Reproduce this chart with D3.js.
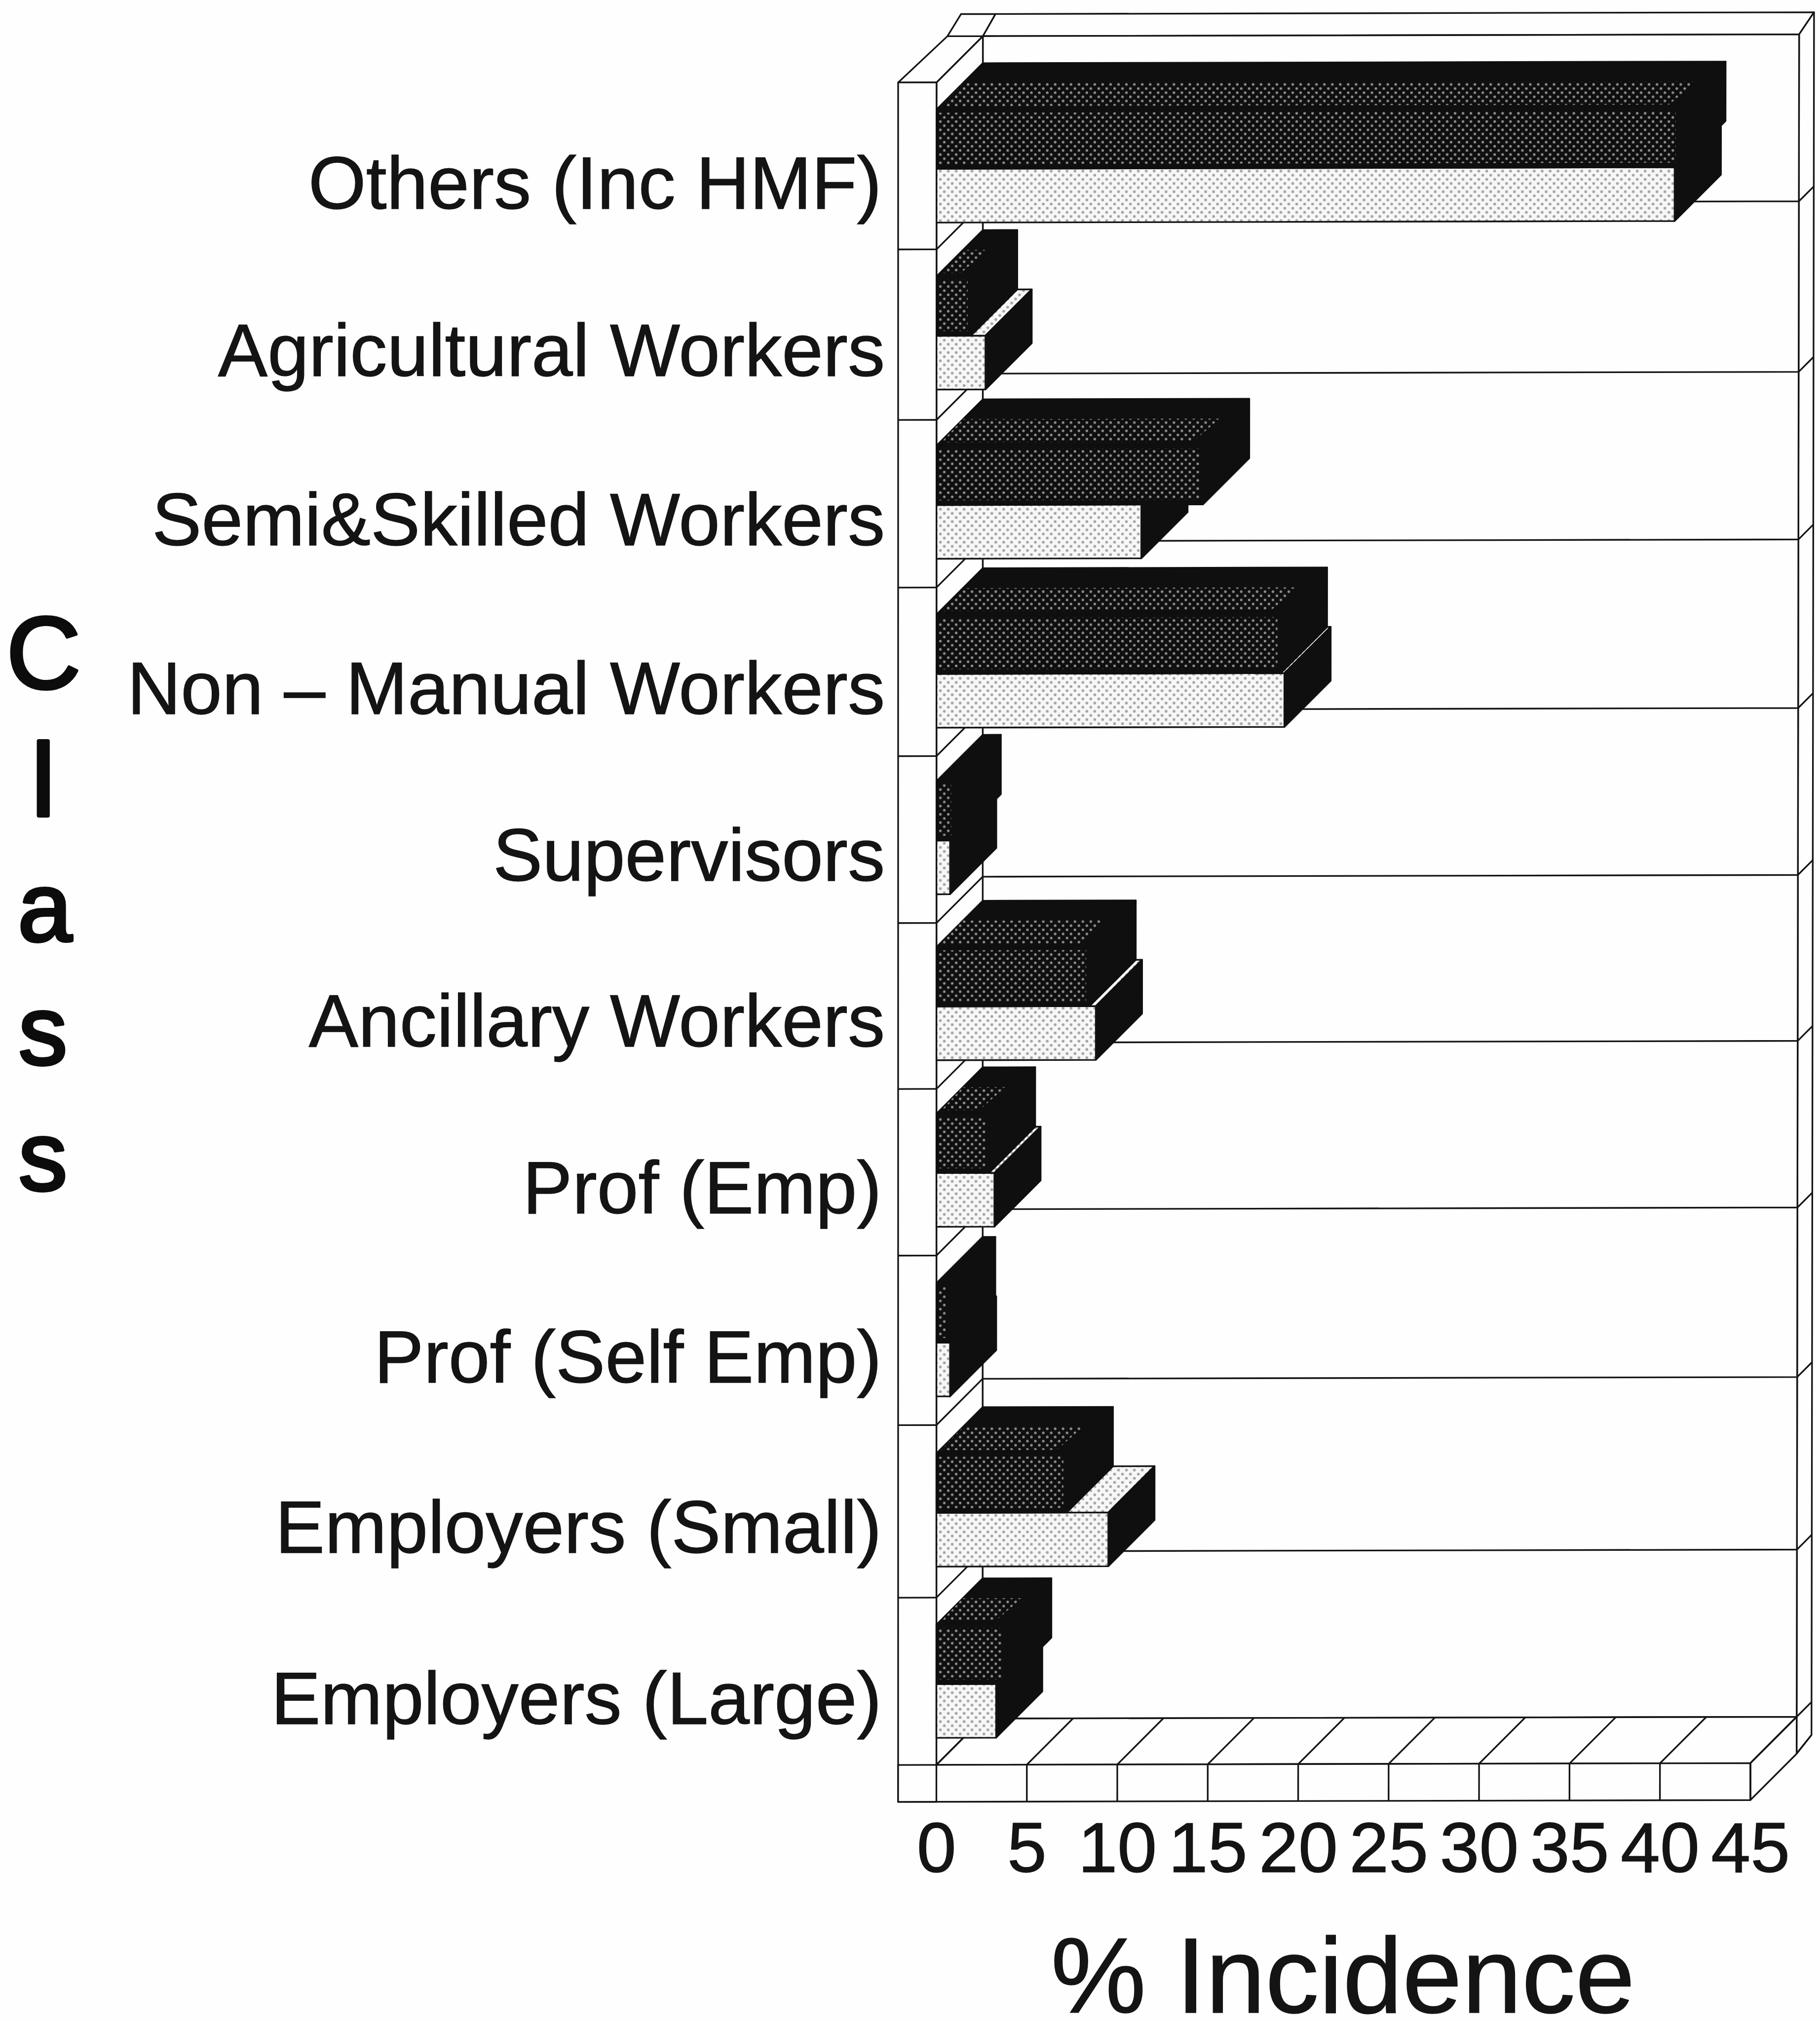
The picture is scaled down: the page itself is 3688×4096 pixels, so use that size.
<!DOCTYPE html>
<html><head><meta charset="utf-8">
<script src="https://cdn.jsdelivr.net/npm/d3@7/dist/d3.min.js"></script>
<style>html,body{margin:0;padding:0;background:#fefefe}svg{display:block}</style>
</head><body><div id="chart"></div>
<script>
const categories = ["Others (Inc HMF)","Agricultural Workers","Semi&Skilled Workers","Non \u2013 Manual Workers","Supervisors","Ancillary Workers","Prof (Emp)","Prof (Self Emp)","Employers (Small)","Employers (Large)"];
const lightValues = [40.7,2.7,11.3,19.2,0.75,8.8,3.2,0.75,9.5,3.3];
const darkValues  = [40.95,1.9,14.7,19.0,1.0,8.45,2.9,0.7,7.2,3.8];
const tickLabels  = [0,5,10,15,20,25,30,35,40,45];
const xTitle = "% Incidence";
const yTitle = ["C","l","a","s","s"];

const W=5516,H=6126;
const FONT='"Liberation Sans",Arial,sans-serif';
const svg=d3.select("#chart").append("svg").attr("width",3688).attr("height",4096).attr("viewBox",`0 0 ${W} ${H}`);
svg.append("rect").attr("width",W).attr("height",H).attr("fill","#fefefe");

const rowIdx=d3.range(categories.length+1);
const x=d3.scaleLinear().domain([0,45]).range([2838,5305]);
/* the scan is not quite even, so the row scales are piecewise */
const yRow=d3.scaleLinear().domain(rowIdx).range([246,756,1273,1781,2292,2798,3301,3806,4320,4843,5350]);
const yBar=d3.scaleLinear().domain(rowIdx.slice(0,-1)).range([512,1018,1531,2043,2548,3051,3556,4070,4586,5105]);
const D=140, x0=x(0), xM=x(45), yTop=yRow(0)+4, yFloor=yRow(10), yBase=5462, xPanel=2722;
const DARK_H=180, LIGHT_H=163;

const defs=svg.append("defs");
function dots(id,bg,dot,r){
  const p=defs.append("pattern").attr("id",id).attr("patternUnits","userSpaceOnUse").attr("width",24).attr("height",25);
  p.append("rect").attr("width",24).attr("height",25).attr("fill",bg);
  p.append("circle").attr("cx",6).attr("cy",6).attr("r",r).attr("fill",dot);
  p.append("circle").attr("cx",18).attr("cy",18.5).attr("r",r).attr("fill",dot);
}
dots("darkDots","#0f0f0f","#8c8c8c",4);
dots("lightDots","#f7f7f7","#a4a4a4",4.3);

const INK="#141414", PAPER="#fefefe", BLACK="#0f0f0f";
const warp=([a,b])=>{const t=(a-2700)/2800,s=b/5400;return [a+8*t*(1-s),b-6*t];};
const line=d3.line();
const g=svg.append("g");
function poly(pts,fill,sw=5,stroke=INK){
  g.append("path").attr("d",line(pts.map(warp))+"Z").attr("fill",fill).attr("stroke",stroke).attr("stroke-width",sw).attr("stroke-linejoin","round");
}
function path(pts,sw=5){
  g.append("path").attr("d",line(pts.map(warp))).attr("fill","none").attr("stroke",INK).attr("stroke-width",sw);
}

/* back wall with its rim */
const wallTop=43, E=45;
poly([[x0+D,yTop-D],[x0+D+38,wallTop],[xM+D+E,wallTop],[xM+D,yTop-D]],PAPER);
poly([[xM+D,yTop-D],[xM+D+E,wallTop],[xM+D+E,yFloor-D+55],[xM+D,yFloor-D+111]],PAPER);
poly([[x0+D,yTop-D],[xM+D,yTop-D],[xM+D,yFloor-D],[x0+D,yFloor-D]],PAPER);
/* inner left wall */
poly([[x0,yTop],[x0+D,yTop-D],[x0+D,yFloor-D],[x0,yFloor]],PAPER);
/* rim pieces at the top left */
poly([[xPanel,yTop],[x0,yTop],[x0+D,yTop-D],[xPanel+149,yTop-D]],PAPER);
poly([[xPanel+149,yTop-D],[xPanel+190,wallTop],[x0+D+38,wallTop],[x0+D,yTop-D]],PAPER);

/* row lines on the walls */
rowIdx.slice(1,-1).forEach(i=>{
  const b=yRow(i);
  path([[x0,b],[x0+D,b-D],[xM+D,b-D],[xM+D+E,b-D-E]]);
});
path([[xM+D,yFloor-D],[xM+D+E,yFloor-D-E]]);

/* floor */
poly([[x0,yFloor],[xM,yFloor],[xM+D,yFloor-D],[x0+D,yFloor-D]],PAPER);
poly([[xM,yFloor],[xM,yBase],[xM+D,yBase-D],[xM+D,yFloor-D]],PAPER);
path([[xM+D,yBase-D],[xM+D+E,yFloor-D+55]]);
tickLabels.forEach(v=>path([[x(v),yFloor],[x(v)+D,yFloor-D]]));

/* front edge */
poly([[xPanel,yTop],[x0,yTop],[x0,yBase],[xPanel,yBase]],PAPER);
rowIdx.slice(1,-1).forEach(i=>path([[xPanel,yRow(i)],[x0,yRow(i)]]));
poly([[xPanel,yFloor],[xM,yFloor],[xM,yBase],[xPanel,yBase]],PAPER);
tickLabels.forEach(v=>path([[x(v),yFloor],[x(v),yBase]]));

/* bars: the light one first, the dark one stands over its top */
function lightBar(v,t,b){
  const r=x(v);
  poly([[x0,t],[r,t],[r+D,t-D],[x0+D,t-D]],"url(#lightDots)");
  poly([[r,t],[r,b],[r+D,b-D],[r+D,t-D]],BLACK,5,BLACK);
  poly([[x0,t],[r,t],[r,b],[x0,b]],"url(#lightDots)");
}
function darkBar(v,t,b){
  const r=x(v);
  poly([[x0,t],[r,t],[r+D,t-D],[x0+D,t-D]],BLACK,5,BLACK);
  poly([[r,t],[r,b],[r+D,b-D],[r+D,t-D]],BLACK,5,BLACK);
  poly([[x0,t],[r,t],[r,b],[x0,b]],BLACK,5,BLACK);
  /* the halftone stops short of the edges of the top and front faces */
  const fr=r-10, bk=D-60;
  if(fr>x0+20) g.append("path").attr("d",line([[x0+6,t+10],[fr,t+10],[fr,b-14],[x0+6,b-14]].map(warp))+"Z").attr("fill","url(#darkDots)");
  const tr=r-30;
  if(tr>x0+30) g.append("path").attr("d",line([[x0+14,t-10],[tr,t-10],[tr+bk,t-bk],[x0+bk,t-bk]].map(warp))+"Z").attr("fill","url(#darkDots)");
}
categories.forEach((c,i)=>{
  const t=yBar(i);
  lightBar(lightValues[i],t,t+LIGHT_H);
  darkBar(darkValues[i],t-DARK_H,t);
});

/* labels */
const fg="#141414";
const lab=svg.append("g").attr("font-family",FONT).attr("fill",fg).attr("stroke",fg).attr("stroke-width",2).attr("font-size",225);
const rightEnds=[2672,2682,2682,2682,2682,2682,2672,2672,2672,2672];
categories.forEach((c,i)=>{
  lab.append("text").attr("x",rightEnds[i]).attr("y",yBar(i)+121).attr("text-anchor","end").text(c);
});
const ax=svg.append("g").attr("transform",`translate(0,${yBase})`)
  .call(d3.axisBottom(x).tickValues(tickLabels).tickSize(0).tickPadding(60));
ax.select(".domain").remove();
ax.selectAll("text").attr("font-family",FONT).attr("font-size",215).attr("fill",fg).attr("stroke",fg).attr("stroke-width",2);

svg.append("text").attr("x",4070).attr("y",6100).attr("text-anchor","middle")
  .attr("font-family",FONT).attr("font-size",325).attr("fill",fg).attr("stroke",fg).attr("stroke-width",2).text(xTitle);
const titleBase=[2086,2472,2852,3226,3608], titleX=[132,131,136,130,130], titleSize=[312,312,296,296,296];
yTitle.forEach((t,i)=>{
  svg.append("text").attr("x",titleX[i]).attr("y",titleBase[i]).attr("text-anchor","middle")
    .attr("font-family",FONT).attr("font-size",titleSize[i]).attr("fill","#0c0c0c")
    .attr("stroke","#0c0c0c").attr("stroke-width",i===1?12:9).attr("stroke-linejoin","round").text(t);
});
</script></body></html>
